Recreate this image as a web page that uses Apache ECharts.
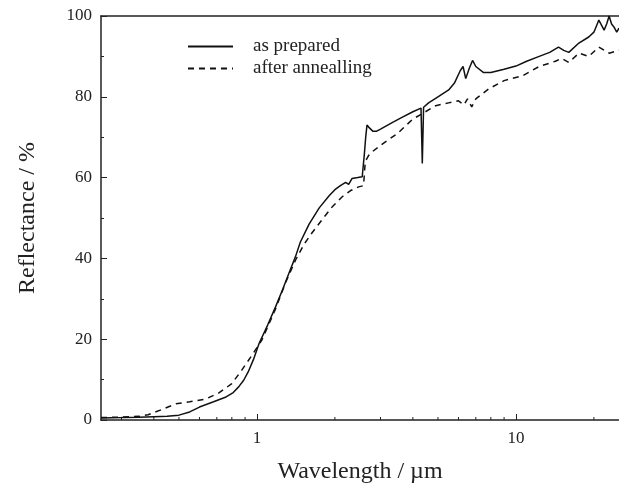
<!DOCTYPE html>
<html>
<head>
<meta charset="utf-8">
<script src="https://cdn.jsdelivr.net/npm/echarts@6/dist/echarts.min.js"></script>
<style>
  html, body { margin: 0; padding: 0; background: #fff; }
  #chart { width: 619px; height: 486px; }
</style>
</head>
<body>
<div id="chart"></div>
<script>
// wavelength (µm) / reflectance (%) pairs
const asPrepared = [
  [0.25, 0.5], [0.3, 0.6], [0.35, 0.7], [0.4, 0.8], [0.45, 0.9], [0.5, 1.2], [0.55, 2.0],
  [0.6, 3.2], [0.68, 4.5], [0.76, 5.7], [0.81, 6.8], [0.85, 8.2], [0.89, 9.9], [0.925, 11.9],
  [0.97, 15], [1.02, 19], [1.1, 23.5], [1.18, 28], [1.26, 32.5], [1.33, 36.4], [1.41, 40.5],
  [1.47, 44], [1.59, 48.5], [1.74, 52.5], [1.9, 55.5], [2.0, 57], [2.1, 58], [2.2, 58.8],
  [2.26, 58.3], [2.33, 59.8], [2.45, 60], [2.55, 60.2], [2.59, 60.5], [2.6, 66],
  [2.63, 70], [2.66, 73], [2.7, 72.5], [2.8, 71.5], [2.9, 71.5], [3.0, 72], [3.3, 73.5],
  [3.6, 74.8], [4.0, 76.3], [4.3, 77.2], [4.35, 63.5], [4.4, 77.4], [4.6, 78.5], [5.0, 80],
  [5.5, 81.7], [5.8, 83.5], [6.1, 86.5], [6.25, 87.5], [6.4, 84.5], [6.6, 87], [6.8, 89],
  [7.0, 87.5], [7.5, 86], [8.0, 86], [9.0, 86.8], [10.0, 87.6], [11.0, 88.8], [12.3, 90],
  [13.5, 91], [14.6, 92.3], [15.3, 91.5], [16.0, 91], [17.5, 93.3], [19.1, 94.8], [20.0, 96],
  [20.9, 99], [21.9, 96.5], [22.4, 98], [22.9, 100], [23.4, 98], [23.9, 97.3], [24.5, 96], [25, 97]
];
const afterAnnealing = [
  [0.25, 0.6], [0.3, 0.7], [0.35, 0.9], [0.38, 1.3], [0.426, 2.5], [0.487, 4], [0.55, 4.5],
  [0.635, 5.2], [0.713, 6.7], [0.8, 9], [0.875, 12.4], [0.956, 16], [1.045, 19.8], [1.18, 27.5],
  [1.29, 34], [1.41, 39.6], [1.52, 43.5], [1.63, 46.3], [1.78, 49.5], [1.95, 52.7], [2.13, 55.2],
  [2.3, 56.8], [2.47, 57.7], [2.58, 58], [2.62, 64], [2.7, 65.5], [2.8, 66.5], [3.0, 68],
  [3.5, 71], [4.0, 74.5], [4.34, 75.8], [4.9, 77.8], [5.5, 78.5], [6.0, 79], [6.3, 78],
  [6.5, 79.5], [6.75, 77.5], [7.0, 79.5], [7.87, 82], [9.0, 84], [10.6, 85.2], [12.3, 87.5],
  [14.2, 88.8], [15.0, 89.5], [16.0, 88.5], [17.5, 90.8], [19.1, 90], [20.9, 92.3], [22.9, 90.8],
  [25, 91.5]
];
const xMajorLabels = [1, 10];
const xMinorTicks = [0.3, 0.4, 0.5, 0.6, 0.7, 0.8, 0.9, 2, 3, 4, 5, 6, 7, 8, 9, 20];

const font = '"Liberation Serif", "DejaVu Serif", serif';
const ink = '#222';
const chart = echarts.init(document.getElementById('chart'));

chart.setOption({
  animation: false,
  grid: { left: 101, right: 0, top: 16, bottom: 66, outerBoundsMode: 'none', containLabel: false },
  legend: {
    orient: 'vertical',
    left: 182,
    top: 32,
    itemWidth: 45,
    itemHeight: 14,
    itemGap: 3,
    itemStyle: { opacity: 0 },
    textStyle: { fontFamily: font, fontSize: 19, color: ink, padding: [0, 0, 0, 15] },
    data: ['as prepared', 'after annealling']
  },
  xAxis: [
    {
      type: 'log',
      min: 0.25,
      max: 25,
      name: 'Wavelength / µm',
      nameLocation: 'middle',
      nameGap: 40,
      nameTextStyle: { fontFamily: font, fontSize: 24, color: ink },
      axisLine: { lineStyle: { color: ink, width: 1.5 } },
      axisTick: { inside: true, length: 6, lineStyle: { color: ink } },
      axisLabel: {
        fontFamily: font, fontSize: 17, color: ink, margin: 10,
        showMinLabel: false, showMaxLabel: false,
        formatter: v => (xMajorLabels.some(m => Math.abs(m - v) < 1e-6) ? String(v) : '')
      },
      splitLine: { show: false }
    },
    {
      type: 'log',
      min: 0.25,
      max: 25,
      position: 'top',
      axisLine: { lineStyle: { color: ink, width: 1.5 } },
      axisTick: { show: false },
      axisLabel: { show: false },
      splitLine: { show: false }
    }
  ],
  yAxis: {
    type: 'value',
    min: 0,
    max: 100,
    interval: 20,
    name: 'Reflectance / %',
    nameLocation: 'middle',
    nameGap: 61,
    nameTextStyle: { fontFamily: font, fontSize: 24, color: ink },
    axisLine: { show: true, lineStyle: { color: ink, width: 1.5 } },
    axisTick: { inside: true, length: 6, lineStyle: { color: ink } },
    minorTick: { show: true, splitNumber: 2, length: 3, lineStyle: { color: ink } },
    axisLabel: { fontFamily: font, fontSize: 17, color: ink, margin: 9 },
    splitLine: { show: false }
  },
  series: [
    {
      name: 'as prepared',
      type: 'line',
      data: asPrepared,
      symbol: 'none',
      lineStyle: { color: '#111', width: 1.5 },
      itemStyle: { color: '#111' }
    },
    {
      name: 'after annealling',
      type: 'line',
      data: afterAnnealing,
      symbol: 'none',
      lineStyle: { color: '#111', width: 1.5, type: [6, 5] },
      itemStyle: { color: '#111' }
    },
    {
      // minor ticks of the log axis
      type: 'custom',
      data: xMinorTicks.map(v => [v, 0]),
      silent: true,
      clip: false,
      renderItem: (params, api) => {
        const p = api.coord([api.value(0), 0]);
        return {
          type: 'line',
          shape: { x1: p[0], y1: p[1], x2: p[0], y2: p[1] - 3 },
          style: { stroke: ink, lineWidth: 1 }
        };
      }
    }
  ]
});
</script>
</body>
</html>
